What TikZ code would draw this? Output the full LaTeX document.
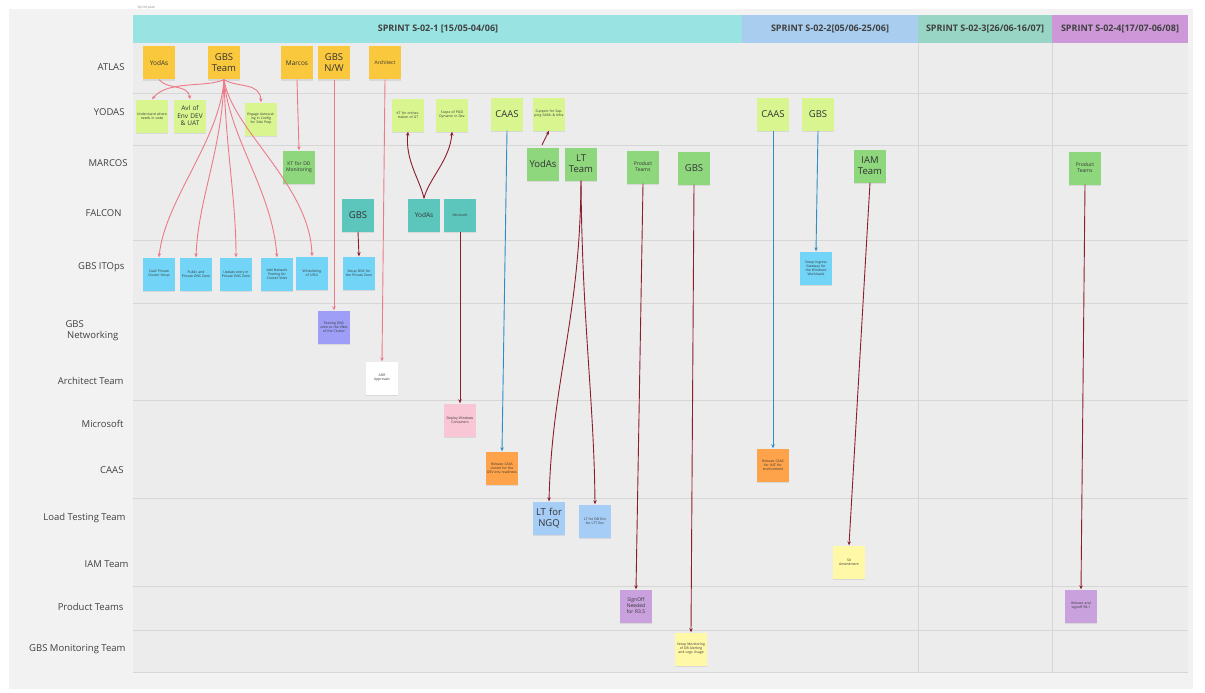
\documentclass[tikz,border=0pt]{standalone}
\usepackage{fontspec}
\setmainfont{Open Sans}
\usetikzlibrary{arrows.meta,shadows}
\definecolor{bgout}{HTML}{F2F2F2}
\definecolor{board}{HTML}{ECECEC}
\definecolor{sepl}{HTML}{D6D6D6}
\definecolor{hA}{HTML}{9AE3E3}
\definecolor{hB}{HTML}{A8CDEE}
\definecolor{hC}{HTML}{98D5C4}
\definecolor{hD}{HTML}{CE98D8}
\definecolor{cyel}{HTML}{F9C83C}
\definecolor{clg}{HTML}{D8F590}
\definecolor{cmg}{HTML}{8ED77D}
\definecolor{cteal}{HTML}{5CC5BC}
\definecolor{ccyan}{HTML}{72D5F7}
\definecolor{clav}{HTML}{9E9EF6}
\definecolor{cpink}{HTML}{F9C6D6}
\definecolor{corg}{HTML}{FFA34A}
\definecolor{cltb}{HTML}{A6CDF5}
\definecolor{cpy}{HTML}{FFF8A6}
\definecolor{cpur}{HTML}{C9A2DD}
\definecolor{apink}{HTML}{EC7A88}
\definecolor{ared}{HTML}{8A1E2E}
\definecolor{ablue}{HTML}{2B8EC7}
\tikzset{
  sticky/.style={minimum width=32pt, minimum height=33pt, inner sep=1pt, align=center,
    text width=30pt, text=black!80, drop shadow={shadow xshift=0pt, shadow yshift=-1.5pt, opacity=0.18}},
  big/.style={font=\fontsize{9.5}{11}\selectfont},
  mid/.style={font=\fontsize{6.5}{7.5}\selectfont},
  sml/.style={font=\fontsize{5}{6}\selectfont},
  tny/.style={font=\fontsize{3.4}{4.1}\selectfont},
  lane/.style={font=\fontsize{9.5}{11}\selectfont, text=black!75, anchor=east, align=center},
  hdr/.style={font=\bfseries\fontsize{9}{11}\selectfont, text=black!75},
  pk/.style={draw=apink, line width=0.9pt, -{Stealth[length=4pt,width=3.5pt]}},
  dr/.style={draw=ared, line width=0.9pt, -{Stealth[length=4pt,width=3.5pt]}},
  bl/.style={draw=ablue, line width=0.9pt, -{Stealth[length=4pt,width=3.5pt]}},
}
\begin{document}
\begin{tikzpicture}[x=1pt,y=-1pt]
\useasboundingbox (0,0) rectangle (1205,693);
\fill[white] (0,0) rectangle (1205,693);
\fill[bgout] (9,9) rectangle (1193,689);
\fill[board] (133,43) rectangle (1188,672);
\node[font=\fontsize{3.5}{4}\selectfont, text=black!45, anchor=west] (tiny) at (134,8) {Sprint plan};
% header
\fill[hA] (133,15) rectangle (742,43);
\fill[hB] (742,15) rectangle (918,43);
\fill[hC] (918,15) rectangle (1052,43);
\fill[hD] (1052,15) rectangle (1188,43);
\node[hdr] (h1) at (438,29) {SPRINT S-02-1 [15/05-04/06]};
\node[hdr] (h2) at (830,29) {SPRINT S-02-2[05/06-25/06]};
\node[hdr] (h3) at (985,29) {SPRINT S-02-3[26/06-16/07]};
\node[hdr] (h4) at (1120,29) {SPRINT S-02-4[17/07-06/08]};
% separators
\foreach \yy in {93,145,240,303,400,498,586,630,672}
  \draw[sepl, line width=0.6pt] (133,\yy) -- (1188,\yy);
\draw[sepl, line width=0.6pt] (918,43) -- (918,672);
\draw[sepl, line width=0.6pt] (1052,43) -- (1052,672);
% lane labels
\node[lane] (l1) at (128,67) {ATLAS};
\node[lane] (l2) at (128,112) {YODAS};
\node[lane] (l3) at (131,163) {MARCOS};
\node[lane] (l4) at (125,213) {FALCON};
\node[lane] (l5) at (128,267) {GBS ITOps};
\node[lane, align=left, anchor=west] (l6) at (62,331) {GBS\\\,Networking};
\node[lane] (l7) at (127,381) {Architect Team};
\node[lane] (l8) at (127,424) {Microsoft};
\node[lane] (l9) at (127,470) {CAAS};
\node[lane] (l10) at (129,518) {Load Testing Team};
\node[lane] (l11) at (132,564) {IAM Team};
\node[lane] (l12) at (127,607) {Product Teams};
\node[lane] (l13) at (129,649) {GBS Monitoring Team};
% ATLAS
\node[sticky, fill=cyel, mid] (a1) at (159,63) {YodAs};
\node[sticky, fill=cyel, big] (a2) at (224,63) {GBS\\Team};
\node[sticky, fill=cyel, mid] (a3) at (297,63) {Marcos};
\node[sticky, fill=cyel, big] (a4) at (334,63) {GBS\\N/W};
\node[sticky, fill=cyel, sml] (a5) at (385,63) {Architect};
% YODAS
\node[sticky, fill=clg, tny] (y1) at (152,116) {Understand where needs in code};
\node[sticky, fill=clg, mid] (y2) at (190,116) {Avl of Env DEV \& UAT};
\node[sticky, fill=clg, tny] (y3) at (261,119) {Engage Autoscaling in Config for Side Prep};
\node[sticky, fill=clg, tny] (y4) at (408,115) {KT for orchestration of GT};
\node[sticky, fill=clg, tny] (y5) at (452,115) {Scope of POD Dynamic in Dev};
\node[sticky, fill=clg, big] (y6) at (507,114) {CAAS};
\node[sticky, fill=clg, tny] (y7) at (549,114) {Support for Sapping SAML \& Infra};
\node[sticky, fill=clg, big] (y8) at (773,114) {CAAS};
\node[sticky, fill=clg, big] (y9) at (818,114) {GBS};
% MARCOS
\node[sticky, fill=cmg, sml] (m1) at (299,167) {KT for DD Monitoring};
\node[sticky, fill=cmg, big] (m2) at (543,164) {YodAs};
\node[sticky, fill=cmg, big] (m3) at (581,164) {LT\\Team};
\node[sticky, fill=cmg, sml] (m4) at (643,167) {Product Teams};
\node[sticky, fill=cmg, big] (m5) at (694,168) {GBS};
\node[sticky, fill=cmg, big] (m6) at (870,166) {IAM\\Team};
\node[sticky, fill=cmg, sml] (m7) at (1085,168) {Product Teams};
% FALCON
\node[sticky, fill=cteal, big] (f1) at (358,215) {GBS};
\node[sticky, fill=cteal, mid] (f2) at (424,215) {YodAs};
\node[sticky, fill=cteal, tny] (f3) at (460,215) {Microsoft};
% GBS ITOps
\node[sticky, fill=ccyan, tny] (i1) at (159,274) {CaaS Private Cluster Setup};
\node[sticky, fill=ccyan, tny] (i2) at (196,274) {Public and Private DNS Zone};
\node[sticky, fill=ccyan, tny] (i3) at (236,274) {Update entry in Private DNS Zone};
\node[sticky, fill=ccyan, tny] (i4) at (277,274) {Add Network Peering for Cluster VNet};
\node[sticky, fill=ccyan, tny] (i5) at (312,273) {Whitelisting of URLS};
\node[sticky, fill=ccyan, tny] (i6) at (359,273) {Setup DNS for the Private Zone};
\node[sticky, fill=ccyan, tny] (i7) at (816,268) {Setup Ingress Gateway for the Windows Workloads};
% GBS Networking
\node[sticky, fill=clav, tny] (n1) at (334,327) {Peering DNS zone to the VNet of the Cluster};
% Architect
\node[sticky, fill=white, tny] (r1) at (382,378) {ADR\\Approvals};
% Microsoft
\node[sticky, fill=cpink, tny] (w1) at (460,420) {Deploy Windows Containers};
% CAAS
\node[sticky, fill=corg, tny] (o1) at (502,468) {Release CAAS cluster for the DEV env readiness};
\node[sticky, fill=corg, tny] (o2) at (773,465) {Release CAAS for UAT for environment};
% Load testing
\node[sticky, fill=cltb, big] (t1) at (549,518) {LT for\\NGQ};
\node[sticky, fill=cltb, tny] (t2) at (595,521) {LT for DD Env for LTT Env};
% IAM
\node[sticky, fill=cpy, tny] (q1) at (849,562) {SA\\Amendment};
% Product Teams
\node[sticky, fill=cpur, sml] (p1) at (636,606) {SignOff Needed for R3.5};
\node[sticky, fill=cpur, tny] (p2) at (1081,606) {Release and signoff R4.1};
% Monitoring
\node[sticky, fill=cpy, tny] (g1) at (691,649) {Setup Monitoring of DB Alerting and Logs Usage};
% ---- connectors
\coordinate (ys) at (542,145);
\draw[pk] (a2.south) .. controls (205,88) and (168,80) .. (y1.north);
\draw[pk] (a1.south) .. controls (168,90) and (188,84) .. (y2.north);
\draw[pk] (a2.south) .. controls (238,88) and (260,82) .. (y3.north);
\draw[pk] (a2.south) .. controls (220,140) and (165,200) .. (i1.north);
\draw[pk] (a2.south) .. controls (222,150) and (198,200) .. (i2.north);
\draw[pk] (a2.south) .. controls (226,150) and (236,200) .. (i3.north);
\draw[pk] (a2.south) .. controls (230,140) and (272,190) .. (i4.north);
\draw[pk] (a2.south) .. controls (232,130) and (310,185) .. (i5.north);
\draw[pk] (a3.south) -- (m1.north);
\draw[pk] (a4.south) -- (n1.north);
\draw[pk] (a5.south) -- (r1.north);
\draw[dr] (f1.south) -- (i6.north);
\draw[dr] (f2.north) .. controls (420,180) and (405,160) .. (y4.south);
\draw[dr] (f2.north) .. controls (428,180) and (450,160) .. (y5.south);
\draw[dr] (f3.south) -- (w1.north);
\draw[bl] (y6.south) -- (o1.north);
\draw[dr] (ys) -- (y7.south);
\draw[dr] (m3.south) .. controls (580,320) and (552,380) .. (t1.north);
\draw[dr] (m3.south) .. controls (582,320) and (594,400) .. (t2.north);
\draw[dr] (m4.south) -- (p1.north);
\draw[dr] (m5.south) -- (g1.north);
\draw[bl] (y8.south) -- (o2.north);
\draw[bl] (y9.south) -- (i7.north);
\draw[dr] (m6.south) -- (q1.north);
\draw[dr] (m7.south) -- (p2.north);
\end{tikzpicture}
\end{document}
